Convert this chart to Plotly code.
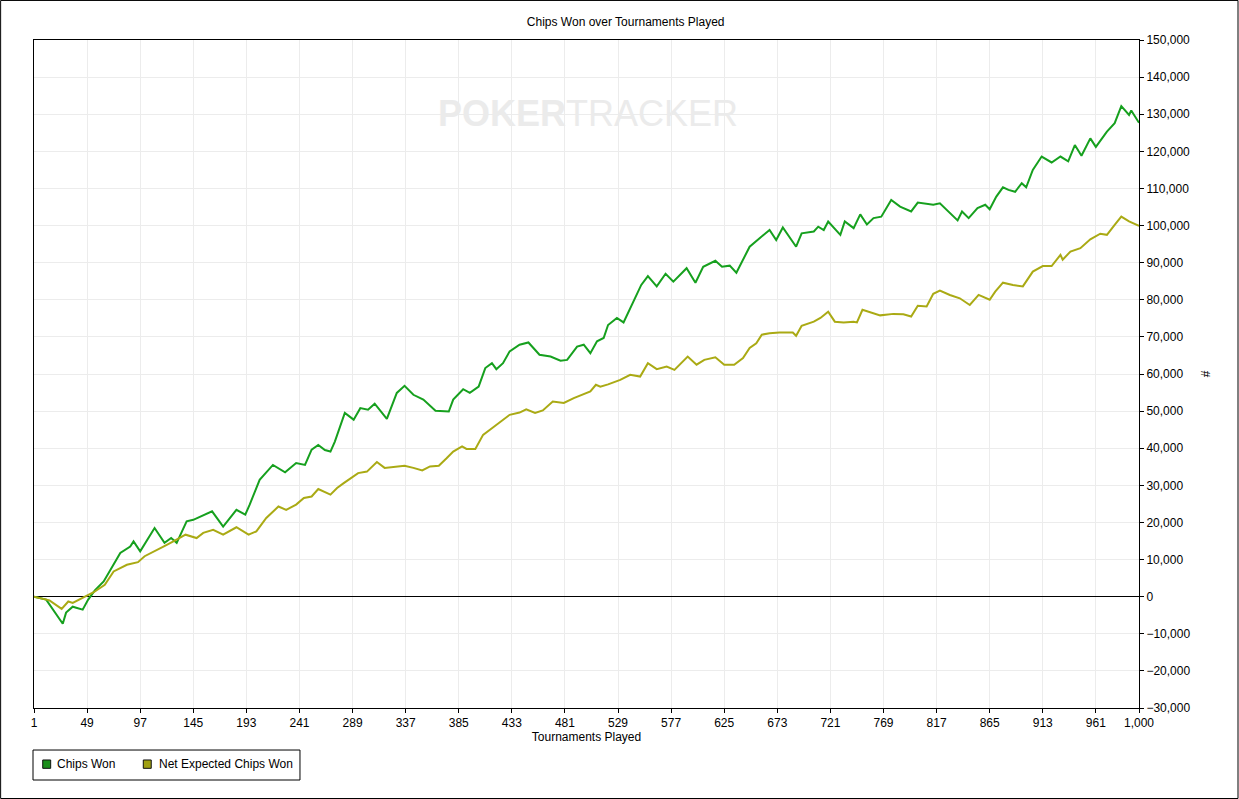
import plotly.graph_objects as go

# Chips Won (green)
won_t = [1, 12, 27, 30, 36, 45, 50, 56, 64, 70, 79, 88, 91, 97, 104, 110, 119, 125, 130, 139,
         145, 153, 162, 172, 178, 184, 192, 196, 205, 217, 228, 238, 246, 252, 258, 264, 269, 273,
         282, 290, 296, 303, 309, 320, 329, 336, 344, 353, 364, 376, 380, 389, 395, 403, 409, 415,
         419, 425, 431, 440, 448, 458, 468, 477, 483, 492, 498, 504, 510, 516, 520, 528, 534, 544,
         550, 556, 564, 572, 579, 591, 599, 606, 617, 623, 630, 636, 642, 648, 657, 666, 672, 678,
         690, 695, 706, 710, 715, 719, 730, 734, 742, 748, 754, 760, 767, 776, 784, 794, 800, 814,
         820, 828, 836, 840, 846, 854, 861, 865, 871, 877, 882, 888, 894, 898, 904, 912, 921, 929,
         936, 942, 948, 956, 961, 971, 978, 984, 991, 993, 1000]
won_v = [0, -800, -7300, -4300, -2700, -3500, -800, 1700, 4100, 7300, 11800, 13500, 14900, 12200,
         15800, 18500, 14500, 15800, 14500, 20300, 20700, 21800, 23000, 18900, 21200, 23400, 22100,
         24800, 31500, 35500, 33500, 36000, 35500, 39600, 40900, 39500, 39100, 41800, 49500, 47700,
         50800, 50400, 52000, 47900, 54900, 56800, 54400, 53100, 50100, 49900, 53100, 55900, 54900,
         56600, 61600, 62900, 61300, 62900, 66100, 67900, 68500, 65200, 64700, 63600, 63800, 67400,
         67900, 65600, 68800, 69700, 73200, 75100, 73900, 80000, 84000, 86400, 83600, 87000, 84900,
         88500, 84600, 88900, 90500, 88900, 89200, 87300, 90800, 94300, 96600, 98800, 96100, 99500,
         94300, 97900, 98400, 99700, 98800, 101100, 97500, 101100, 99300, 103000, 100300, 102000,
         102400, 106900, 105100, 103800, 106200, 105600, 106000, 103800, 101400, 103800, 102000,
         104700, 105600, 104400, 107800, 110300, 109600, 109100, 111400, 110300, 115000, 118600,
         117000, 118600, 117300, 121700, 118800, 123500, 121200, 125300, 127600, 132200, 129800,
         131000, 127700]

# Net Expected Chips Won (olive)
ev_t = [1, 15, 26, 32, 36, 47, 55, 65, 73, 85, 95, 101, 110, 118, 127, 138, 148, 154, 163, 172,
        184, 195, 202, 211, 222, 229, 238, 245, 252, 258, 269, 275, 281, 288, 294, 302, 311, 318,
        327, 336, 344, 352, 359, 367, 374, 380, 388, 392, 400, 407, 415, 424, 431, 440, 446, 454,
        461, 470, 480, 489, 498, 504, 509, 513, 520, 531, 540, 549, 556, 564, 573, 580, 592, 600,
        607, 617, 625, 634, 642, 648, 654, 659, 666, 675, 687, 690, 695, 706, 712, 719, 725, 733,
        742, 745, 750, 755, 766, 778, 787, 794, 800, 808, 814, 820, 829, 838, 847, 855, 865, 870,
        877, 886, 895, 904, 913, 921, 929, 931, 938, 947, 956, 965, 971, 978, 984, 991, 1000]
ev_v = [0, -1000, -3300, -1300, -1700, 100, 1200, 3200, 6800, 8600, 9300, 10900, 12200, 13500,
        14900, 16700, 15800, 17200, 18000, 16700, 18700, 16700, 17600, 21200, 24300, 23400, 24800,
        26600, 27000, 29000, 27500, 29300, 30600, 32000, 33300, 33700, 36300, 34700, 35100, 35300,
        34700, 34000, 35100, 35300, 37300, 39100, 40500, 39800, 39800, 43600, 45400, 47500, 49000,
        49600, 50500, 49500, 50200, 52600, 52200, 53500, 54700, 55300, 57100, 56600, 57200, 58400,
        59800, 59300, 62900, 61300, 62000, 61100, 64700, 62500, 63800, 64500, 62500, 62500, 64300,
        67000, 68300, 70600, 71000, 71200, 71200, 70300, 73000, 74100, 75100, 76800, 74100, 73900,
        74100, 73900, 77300, 76800, 75800, 76200, 76100, 75500, 78400, 78200, 81600, 82500, 81300,
        80400, 78600, 81300, 80000, 82200, 84600, 84000, 83600, 87600, 89100, 89100, 92100, 90800,
        93000, 93900, 96300, 97800, 97500, 100200, 102400, 101100, 99900]

x_ticks = [1, 49, 97, 145, 193, 241, 289, 337, 385, 433, 481, 529, 577, 625, 673, 721, 769,
           817, 865, 913, 961, 1000]

GREEN = "#16a01e"
OLIVE = "#aaaa14"
FONT = "Liberation Sans, Arial, sans-serif"

fig = go.Figure()
fig.add_trace(go.Scatter(x=won_t, y=won_v, mode="lines", line=dict(color=GREEN, width=2),
                         name="Chips Won"))
fig.add_trace(go.Scatter(x=ev_t, y=ev_v, mode="lines", line=dict(color=OLIVE, width=2),
                         name="Net Expected Chips Won"))

fig.add_annotation(text="<b>POKER</b>TRACKER", xref="paper", yref="paper", x=0.5014, y=0.9237,
                   showarrow=False, font=dict(family=FONT, size=36, color="#ebebeb"))

# outer frame of the whole image
fig.add_shape(type="rect", xref="paper", yref="paper", x0=-0.0302, x1=1.0896, y0=-0.1355,
              y1=1.0592, line=dict(color="black", width=1))

# hand-made legend box (square swatches like the original)
fig.add_shape(type="rect", xref="paper", yref="paper", x0=-0.0009, x1=0.2407, y0=-0.1078,
              y1=-0.0629, line=dict(color="black", width=1))
for (x0, name, col, tx) in [(0.0079, "Chips Won", "#1c8f1c", 0.0190),
                            (0.0989, "Net Expected Chips Won", "#a0a012", 0.1110)]:
    fig.add_shape(type="rect", xref="paper", yref="paper", x0=x0, x1=x0 + 0.0072,
                  y0=-0.0903, y1=-0.0778, fillcolor=col, line=dict(color="#111", width=1))
    fig.add_annotation(text=name, xref="paper", yref="paper", x=tx, y=-0.0840,
                       xanchor="left", yanchor="middle", showarrow=False, font=dict(size=12))

fig.update_layout(
    width=1239, height=799,
    margin=dict(l=34, r=100, t=40, b=91),
    paper_bgcolor="white", plot_bgcolor="white",
    showlegend=False,
    font=dict(family=FONT, size=12, color="black"),
    title=dict(text="Chips Won over Tournaments Played", x=0.505, y=0.973,
               xanchor="center", yanchor="middle", font=dict(size=12)),
    xaxis=dict(range=[1, 1000], tickvals=x_ticks, ticktext=[f"{v:,}" for v in x_ticks],
               showgrid=True, gridcolor="#ececec", zeroline=False,
               showline=True, linecolor="black", mirror=True,
               ticks="outside", ticklen=4, tickcolor="black", tickfont=dict(size=12),
               title=dict(text="Tournaments Played", standoff=2, font=dict(size=12))),
    yaxis=dict(range=[-30000, 150000], dtick=10000, tickformat=",", side="right",
               showgrid=True, gridcolor="#ececec",
               zeroline=True, zerolinecolor="black", zerolinewidth=1,
               showline=True, linecolor="black", mirror=True,
               ticks="outside", ticklen=4, tickcolor="black", tickfont=dict(size=12),
               title=dict(text="#", standoff=12, font=dict(size=12))),
)

fig.write_html("out.html", config={"displayModeBar": False},
               post_script="document.body.style.margin='0px';")
